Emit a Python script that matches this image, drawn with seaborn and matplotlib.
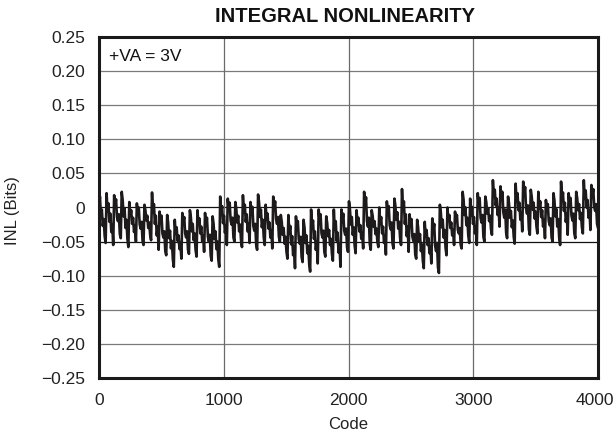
import numpy as np
import matplotlib
matplotlib.use("Agg")
import matplotlib.pyplot as plt
import matplotlib.transforms as mtransforms
import seaborn as sns

# INL trace, in milli-LSB (Bits x 1000), 8 samples per ~61-code tooth
inl_q1 = [
    0, 16, -13, -3, -27, -17, -42, -52,
    21, -6, 6, -21, -9, -36, -25, -55,
    18, 2, 12, -14, -20, -10, -39, -45,
    23, 11, -13, -1, -30, -18, -46, -58,
    8, -12, -4, -24, -15, -36, -27, -50,
    6, -9, 0, -25, -31, -21, -49, -55,
    4, -4, -19, -12, -30, -22, -40, -48,
    22, -7, 5, -24, -12, -41, -28, -62,
    -6, -22, -12, -38, -44, -35, -64, -70,
    -11, -22, -45, -34, -60, -49, -76, -87,
    -18, -38, -29, -49, -41, -61, -52, -75,
    -8, -23, -14, -38, -44, -35, -62, -68,
    -4, -14, -35, -24, -48, -38, -62, -72,
    -4, -25, -16, -38, -28, -50, -41, -65,
    -8, -26, -15, -43, -50, -40, -71, -78,
    -13, -24, -46, -35, -61, -50, -76, -87,
]
inl_q2 = [
    16, -9, 2, -23, -12, -37, -27, -55,
    13, -3, 7, -19, -25, -15, -44, -50,
    8, -2, -22, -12, -35, -25, -48, -58,
    18, -7, 4, -21, -10, -35, -24, -52,
    8, -10, 1, -27, -34, -24, -55, -62,
    19, 8, -14, -3, -29, -18, -44, -55,
    4, -18, -9, -31, -22, -44, -34, -60,
    16, 0, 9, -17, -24, -14, -43, -50,
    -11, -21, -40, -30, -53, -43, -65, -75,
    -11, -38, -27, -54, -42, -70, -58, -89,
    -13, -30, -20, -47, -53, -43, -73, -80,
    -18, -29, -52, -41, -67, -56, -83, -94,
    -3, -31, -19, -46, -35, -62, -50, -82,
    -3, -20, -10, -38, -44, -34, -65, -72,
    -13, -23, -42, -33, -55, -46, -68, -78,
    -3, -32, -20, -49, -37, -66, -53, -87,
]
inl_q3 = [
    -3, -19, -9, -34, -40, -31, -59, -65,
    9, -2, -25, -14, -40, -29, -56, -67,
    -4, -24, -15, -35, -26, -46, -38, -60,
    23, 2, 15, -20, -28, -15, -54, -62,
    -4, -12, -28, -20, -39, -31, -50, -58,
    0, -24, -14, -38, -28, -52, -41, -69,
    9, -8, 2, -26, -32, -22, -53, -60,
    13, 3, -18, -7, -31, -21, -45, -55,
    27, -5, 9, -24, -10, -42, -28, -65,
    -10, -26, -17, -43, -49, -39, -69, -75,
    -18, -29, -50, -39, -64, -54, -78, -89,
    -21, -42, -33, -55, -45, -67, -58, -82,
    -16, -36, -24, -56, -64, -52, -88, -96,
    4, -7, -29, -18, -44, -33, -59, -70,
    0, -19, -11, -30, -22, -41, -33, -55,
    -6, -20, -11, -33, -38, -30, -55, -60,
]
inl_q4 = [
    23, 12, -11, 0, -26, -15, -41, -52,
    13, -11, 1, -24, -14, -38, -28, -55,
    21, 3, 14, -15, -22, -11, -43, -50,
    16, 8, -9, -1, -20, -12, -32, -40,
    40, 16, 26, 3, 13, -11, 0, -28,
    31, 12, 23, -7, -15, -3, -37, -45,
    16, 6, -15, -5, -29, -19, -43, -53,
    35, 10, 21, -4, 7, -18, -7, -35,
    38, 18, 30, -1, -9, 3, -32, -40,
    26, 16, -3, 7, -16, -6, -28, -38,
    23, -1, 9, -14, -4, -28, -18, -45,
    11, -4, 5, -20, -26, -16, -44, -50,
    21, 10, -13, -2, -28, -17, -44, -55,
    38, 11, 22, -5, 7, -21, -9, -40,
    21, 5, 14, -12, -19, -9, -38, -45,
    23, 14, -4, 5, -17, -8, -29, -38,
    40, 14, 25, 0, 11, -15, -4, -33,
    33, 17, 27, 1, -5, 5, -24, -30,
]

y_ticks = [-0.25, -0.20, -0.15, -0.10, -0.05, 0.0, 0.05, 0.10, 0.15, 0.20, 0.25]
y_labels = ["\u22120.25", "\u22120.20", "\u22120.15", "\u22120.10", "\u22120.05", "0",
            "0.05", "0.10", "0.15", "0.20", "0.25"]
x_ticks = [0, 1000, 2000, 3000, 4000]
x_labels = ["0", "1000", "2000", "3000", "4000"]

inl = np.array(inl_q1 + inl_q2 + inl_q3 + inl_q4) / 1000.0
codes = np.linspace(0, 4000, len(inl))

sns.set_theme(style="white")
plt.rcParams["font.family"] = ["Liberation Sans", "DejaVu Sans"]
plt.rcParams["axes.unicode_minus"] = True

W, H = 615, 444
fig = plt.figure(figsize=(W / 100, H / 100), dpi=100)
ax = fig.add_axes([99 / W, 1 - 378 / H, (598 - 99) / W, (378 - 37) / H])

# grid
for yv in y_ticks[1:-1]:
    col = "#111111" if yv in (0.0, -0.05) else "#7a7a7a"
    ax.axhline(yv, color=col, lw=0.9, zorder=1)
for xv in x_ticks[1:-1]:
    ax.axvline(xv, color="#6a6a6a", lw=0.9, zorder=1)

sns.lineplot(x=codes, y=inl, ax=ax, color="#1e1a1b", linewidth=1.9, sort=False, zorder=3)

ax.set_xlim(0, 4000)
ax.set_ylim(-0.25, 0.25)
ax.set_yticks(y_ticks)
ax.set_yticklabels(y_labels)
ax.set_xticks(x_ticks)
ax.set_xticklabels(x_labels)
ax.tick_params(axis="both", length=0, labelsize=12.5, colors="#222222")
ax.tick_params(axis="y", pad=10)
ax.tick_params(axis="x", pad=11)

# nudge the last x label so it stays inside the canvas
last = ax.get_xticklabels()[-1]
last.set_transform(last.get_transform() +
                   mtransforms.ScaledTranslation(-3 / 100, 0, fig.dpi_scale_trans))

for s in ax.spines.values():
    s.set_color("#1a1a1a")
    s.set_linewidth(2.2)
    s.set_zorder(5)

ax.set_xlabel("Code", fontsize=12, color="#222222", labelpad=6)
ax.set_ylabel("INL (Bits)", fontsize=12, color="#222222")
ax.yaxis.set_label_coords(-(99 - 20) / (598 - 99), 0.49)

ax.text(0.02, 0.965, "+VA = 3V", transform=ax.transAxes, ha="left", va="top",
        fontsize=12.5, color="#111111", zorder=6)

fig.text(345 / W, 1 - 17 / H, "INTEGRAL NONLINEARITY", ha="center", va="center",
         fontsize=14.5, fontweight="bold", color="#111111")

fig.savefig("out.png", dpi=100)
